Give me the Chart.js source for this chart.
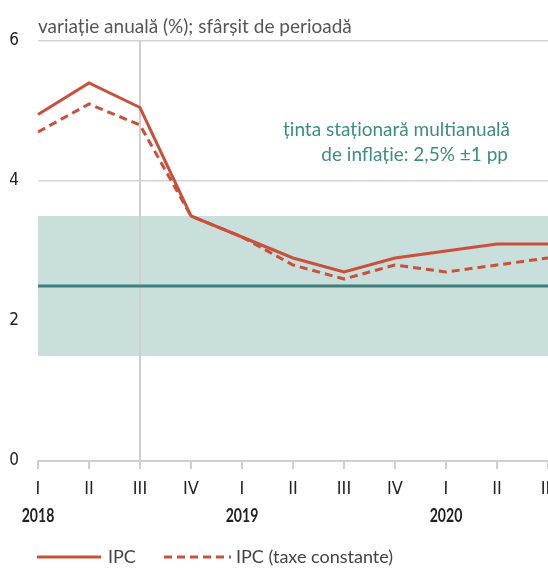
<!DOCTYPE html>
<html>
<head>
<meta charset="utf-8">
<script src="https://cdn.jsdelivr.net/npm/chart.js@4.4.1/dist/chart.umd.min.js"></script>
<style>
html,body{margin:0;padding:0;background:#fff;overflow:hidden;}
#wrap{width:548px;height:569px;position:relative;}
</style>
</head>
<body>
<div id="wrap"><canvas id="c" width="548" height="569"></canvas></div>
<script>
const quarters = ["I","II","III","IV","I","II","III","IV","I","II","III"];
const years = ["2018","","","","2019","","","","2020","",""];
const ipc = [4.95,5.4,5.05,3.5,3.2,2.9,2.7,2.9,3.0,3.1,3.1];
const ipcTaxe = [4.7,5.1,4.8,3.5,3.2,2.8,2.6,2.8,2.7,2.8,2.9];
const yTicks = [0,2,4,6];
const bandRange = [1.5,3.5];
const targetValue = [2.5];
const markerIndex = [2];
const titleText = "variație anuală (%); sfârșit de perioadă";
const noteLines = ["ținta staționară multianuală","de inflație: 2,5% ±1 pp"];
const legendLabels = ["IPC","IPC (taxe constante)"];

const RED = "#c9503b";
const TEAL = "#3f7f7e";
const BAND = "#c8dfdb";
const GRID = "#d3d3d3";
const NARROW = "'Liberation Sans Narrow','DejaVu Sans Condensed',sans-serif";
const SANS = "Lato,'Open Sans',sans-serif";

const decor = {
  id:'decor',
  beforeDatasetsDraw(chart){
    const {ctx, chartArea:a, scales:{x,y}} = chart;
    ctx.save();
    const yt = y.getPixelForValue(bandRange[1]), yb = y.getPixelForValue(bandRange[0]);
    ctx.fillStyle = BAND;
    ctx.fillRect(a.left, yt, a.right - a.left, yb - yt);
    ctx.strokeStyle = "#cfcfcf"; ctx.lineWidth = 2;
    markerIndex.forEach(i=>{
      const px = Math.round(x.getPixelForValue(i));
      ctx.beginPath(); ctx.moveTo(px, a.top); ctx.lineTo(px, a.bottom); ctx.stroke();
    });
    ctx.strokeStyle = TEAL; ctx.lineWidth = 3;
    targetValue.forEach(v=>{
      const py = y.getPixelForValue(v);
      ctx.beginPath(); ctx.moveTo(a.left, py); ctx.lineTo(a.right, py); ctx.stroke();
    });
    ctx.restore();
  },
  afterDraw(chart){
    const {ctx, scales:{x}} = chart;
    ctx.save();
    ctx.fillStyle = "#555"; ctx.font = "19px " + SANS;
    ctx.textAlign = "left"; ctx.textBaseline = "alphabetic";
    ctx.fillText(titleText, 38, 33);
    ctx.fillStyle = "#3d8c87"; ctx.font = "19px " + SANS;
    ctx.textAlign = "right";
    ctx.fillText(noteLines[0], 510, 136);
    ctx.fillText(noteLines[1], 508, 161);
    ctx.fillStyle = "#222"; ctx.font = "bold 18px " + SANS;
    ctx.textAlign = "center"; ctx.textBaseline = "middle";
    years.forEach((yr,i)=>{
      if(!yr) return;
      const px = x.getPixelForValue(i);
      ctx.save(); ctx.translate(px, 516); ctx.scale(0.78, 1);
      ctx.fillText(yr, 0, 0); ctx.restore();
    });
    ctx.strokeStyle = RED; ctx.lineWidth = 3;
    ctx.beginPath(); ctx.moveTo(37,557); ctx.lineTo(101,557); ctx.stroke();
    ctx.setLineDash([8,5]);
    ctx.beginPath(); ctx.moveTo(164,557); ctx.lineTo(231,557); ctx.stroke();
    ctx.setLineDash([]);
    ctx.fillStyle = "#444"; ctx.font = "18px " + SANS;
    ctx.textAlign = "left"; ctx.textBaseline = "middle";
    ctx.fillText(legendLabels[0], 108, 557);
    ctx.fillText(legendLabels[1], 236, 557);
    ctx.restore();
  }
};

new Chart(document.getElementById('c'), {
  type:'line',
  data:{
    labels: quarters,
    datasets:[
      {label:legendLabels[0], data:ipc, borderColor:RED, borderWidth:3, pointRadius:0, tension:0, fill:false, order:1},
      {label:legendLabels[1], data:ipcTaxe, borderColor:RED, borderWidth:3, borderDash:[8,5], pointRadius:0, tension:0, fill:false, order:2}
    ]
  },
  options:{
    responsive:false, devicePixelRatio:1, animation:false,
    layout:{padding:{top:41,left:0,right:0,bottom:0}},
    plugins:{legend:{display:false}, tooltip:{enabled:false}},
    scales:{
      x:{
        offset:false,
        grid:{drawOnChartArea:false, drawTicks:true, tickLength:8, color:"#cfcfcf", lineWidth:2},
        border:{display:true, color:"#cfcfcf", width:2},
        ticks:{autoSkip:false, maxRotation:0, color:"#222", padding:10, font:{family:NARROW, size:18}},
        afterFit(s){ s.height = 108; s.paddingLeft = 0; s.paddingRight = 0; }
      },
      y:{
        min:0, max:6,
        afterBuildTicks(s){ s.ticks = yTicks.map(v=>({value:v})); },
        grid:{drawTicks:false, color:GRID, lineWidth:1.5},
        border:{display:false},
        ticks:{color:"#222", padding:19, font:{family:NARROW, size:17}},
        afterFit(s){ s.width = 38; s.paddingTop = 0; s.paddingBottom = 0; }
      }
    }
  },
  plugins:[decor]
});
</script>
</body>
</html>
